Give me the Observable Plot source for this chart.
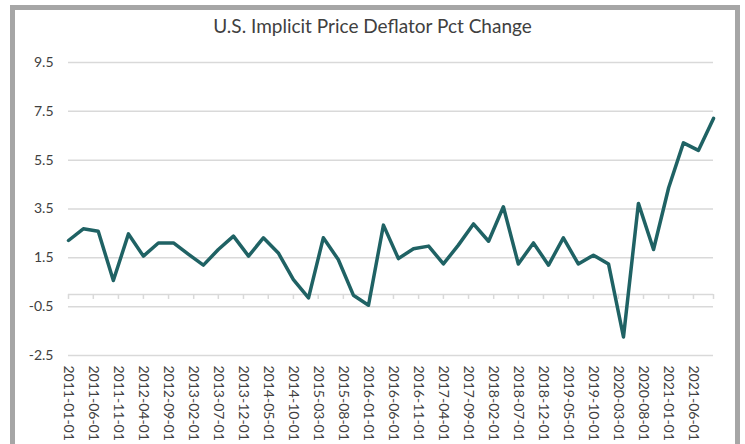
<!DOCTYPE html>
<html><head><meta charset="utf-8">
<script src="https://cdn.jsdelivr.net/npm/d3@7"></script>
<script src="https://cdn.jsdelivr.net/npm/@observablehq/plot@0.6"></script>
<style>
body{margin:0;background:#fff;}
#wrap{position:relative;width:745px;height:444px;overflow:hidden;font-family:Lato,"Open Sans",sans-serif;}
#wrap svg{position:absolute;left:0;top:0;}
#frame{position:absolute;left:10px;top:5px;width:720px;height:450px;border:5px solid #a6a6a6;pointer-events:none;}
#title{position:absolute;top:14px;left:0;width:745px;text-align:center;font-size:19px;color:#404040;}
</style></head>
<body><div id="wrap"><div id="title">U.S. Implicit Price Deflator Pct Change</div><div id="frame"></div></div>
<script>
const dates = [
  "2011-01-01","2011-04-01","2011-07-01","2011-10-01",
  "2012-01-01","2012-04-01","2012-07-01","2012-10-01",
  "2013-01-01","2013-04-01","2013-07-01","2013-10-01",
  "2014-01-01","2014-04-01","2014-07-01","2014-10-01",
  "2015-01-01","2015-04-01","2015-07-01","2015-10-01",
  "2016-01-01","2016-04-01","2016-07-01","2016-10-01",
  "2017-01-01","2017-04-01","2017-07-01","2017-10-01",
  "2018-01-01","2018-04-01","2018-07-01","2018-10-01",
  "2019-01-01","2019-04-01","2019-07-01","2019-10-01",
  "2020-01-01","2020-04-01","2020-07-01","2020-10-01",
  "2021-01-01","2021-04-01","2021-07-01","2021-10-01"
];
const values = [
  2.21, 2.69, 2.59, 0.57,
  2.48, 1.57, 2.11, 2.11,
  1.64, 1.20, 1.84, 2.39,
  1.57, 2.32, 1.70, 0.61,
  -0.14, 2.32, 1.43, -0.03,
  -0.44, 2.84, 1.47, 1.87,
  1.98, 1.25, 2.02, 2.89,
  2.18, 3.59, 1.25, 2.11,
  1.20, 2.32, 1.25, 1.61,
  1.25, -1.74, 3.73, 1.84,
  4.37, 6.21, 5.90, 7.21
];
const yTicks = [-2.5, -0.5, 1.5, 3.5, 5.5, 7.5, 9.5];
const xTickLabels = [
  "2011-01-01","2011-06-01","2011-11-01","2012-04-01","2012-09-01","2013-02-01",
  "2013-07-01","2013-12-01","2014-05-01","2014-10-01","2015-03-01","2015-08-01",
  "2016-01-01","2016-06-01","2016-11-01","2017-04-01","2017-09-01","2018-02-01",
  "2018-07-01","2018-12-01","2019-05-01","2019-10-01","2020-03-01","2020-08-01",
  "2021-01-01","2021-06-01"
];

const parse = d3.utcParse("%Y-%m-%d");
const data = dates.map((d, i) => ({date: parse(d), value: values[i]}));
const ticks = xTickLabels.map(parse);
const endDate = data[data.length - 1].date;

const plot = Plot.plot({
  width: 745, height: 444,
  marginLeft: 68, marginRight: 32, marginTop: 62, marginBottom: 89,
  style: {fontFamily: "Lato, 'Open Sans', sans-serif", background: "transparent", color: "#404040"},
  x: {type: "utc", domain: [data[0].date, endDate], label: null},
  y: {domain: [-2.5, 9.5], label: null},
  marks: [
    Plot.ruleY(yTicks, {stroke: "#d9d9d9", strokeWidth: 1.5}),
    Plot.ruleY([0], {stroke: "#d9d9d9", strokeWidth: 1.5}),
    Plot.ruleX([...ticks, endDate], {y1: 0, y2: 0, insetBottom: -5, stroke: "#d9d9d9", strokeWidth: 1.5}),
    Plot.axisY({ticks: yTicks, tickSize: 0, tickPadding: 15, fontSize: 14, label: null, tickFormat: d => d.toFixed(1)}),
    Plot.axisX({ticks, tickSize: 0, tickRotate: 90, tickPadding: 10, fontSize: 14, label: null, tickFormat: d3.utcFormat("%Y-%m-%d")}),
    Plot.line(data, {x: "date", y: "value", stroke: "#1f6264", strokeWidth: 3.5})
  ]
});
document.getElementById("wrap").insertBefore(plot, document.getElementById("title"));
</script>
</body></html>
